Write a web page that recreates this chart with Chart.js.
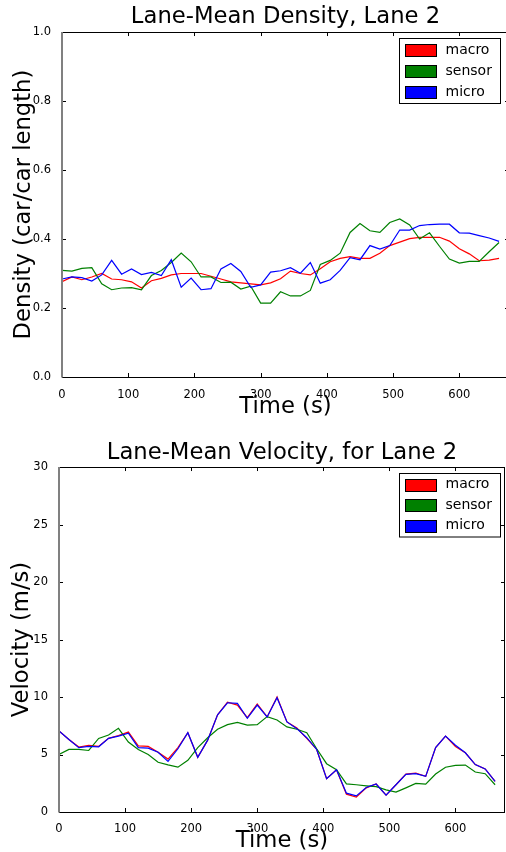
<!DOCTYPE html>
<html>
<head>
<meta charset="utf-8">
<script src="https://cdn.jsdelivr.net/npm/chart.js@4.4.0/dist/chart.umd.min.js"></script>
<style>
body { margin: 0; background: #fff; overflow: hidden; width: 506px; height: 852px; position: relative; }
canvas { position: absolute; left: 0; }
</style>
</head>
<body>
<canvas id="density" width="510" height="426" style="top:0"></canvas>
<canvas id="velocity" width="506" height="426" style="top:426px"></canvas>
<script>
// 시간 (s)
const times = [0, 15, 30, 45, 60, 75, 90, 105, 120, 135, 150, 165, 180, 195, 210, 225, 240, 255, 270, 285, 300, 315, 330,
  345, 360, 375, 390, 405, 420, 435, 450, 465, 480, 495, 510, 525, 540, 555, 570, 585, 600, 615, 630, 645, 660];

// 밀도 (car/car length)
const macroDensity = [0.276, 0.290, 0.282, 0.290, 0.300, 0.284, 0.282, 0.276, 0.258, 0.279, 0.286, 0.296, 0.300, 0.300, 0.300, 0.292, 0.284, 0.276, 0.273, 0.270, 0.267, 0.273, 0.285,
  0.307, 0.300, 0.296, 0.314, 0.334, 0.344, 0.349, 0.344, 0.344, 0.359, 0.381, 0.391, 0.401, 0.405, 0.405, 0.405, 0.394, 0.372, 0.357, 0.337, 0.339, 0.344];
const sensorDensity = [0.309, 0.307, 0.315, 0.317, 0.270, 0.253, 0.258, 0.259, 0.253, 0.294, 0.309, 0.332, 0.359, 0.334, 0.290, 0.290, 0.274, 0.275, 0.255, 0.263, 0.214, 0.214, 0.247,
  0.235, 0.235, 0.251, 0.326, 0.338, 0.359, 0.419, 0.445, 0.424, 0.419, 0.448, 0.458, 0.441, 0.400, 0.418, 0.379, 0.342, 0.330, 0.335, 0.335, 0.363, 0.390];
const microDensity = [0.284, 0.290, 0.288, 0.278, 0.296, 0.338, 0.298, 0.313, 0.297, 0.303, 0.294, 0.340, 0.260, 0.287, 0.253, 0.256, 0.313, 0.329, 0.306, 0.260, 0.267, 0.304, 0.308,
  0.317, 0.301, 0.332, 0.272, 0.282, 0.309, 0.346, 0.340, 0.381, 0.371, 0.381, 0.426, 0.426, 0.439, 0.442, 0.443, 0.443, 0.418, 0.417, 0.410, 0.403, 0.393];

// 속도 (m/s)
const macroVelocity = [7.04, 6.3, 5.65, 5.8, 5.7, 6.4, 6.65, 6.95, 5.75, 5.7, 5.2, 4.6, 5.6, 6.9, 4.76, 6.25, 8.45, 9.55, 9.3, 8.2, 9.4, 8.27, 10.0,
  7.83, 7.3, 6.4, 5.44, 2.9, 3.68, 1.55, 1.3, 2.1, 2.43, 1.46, 2.37, 3.3, 3.38, 3.1, 5.6, 6.6, 5.7, 5.15, 4.12, 3.74, 2.66];
const sensorVelocity = [5.0, 5.44, 5.44, 5.35, 6.4, 6.7, 7.28, 6.08, 5.44, 5.0, 4.33, 4.1, 3.9, 4.5, 5.6, 6.46, 7.2, 7.6, 7.8, 7.55, 7.6, 8.3, 8.0,
  7.4, 7.2, 6.9, 5.5, 4.2, 3.68, 2.45, 2.37, 2.28, 2.2, 1.93, 1.73, 2.1, 2.48, 2.42, 3.3, 3.89, 4.06, 4.08, 3.48, 3.33, 2.37];
const microVelocity = [7.04, 6.3, 5.6, 5.7, 5.67, 6.4, 6.6, 6.85, 5.6, 5.55, 5.2, 4.4, 5.5, 6.9, 4.76, 6.25, 8.45, 9.5, 9.45, 8.15, 9.3, 8.27, 9.94,
  7.83, 7.25, 6.46, 5.44, 2.9, 3.68, 1.64, 1.4, 2.13, 2.43, 1.46, 2.37, 3.27, 3.33, 3.1, 5.6, 6.6, 5.8, 5.15, 4.12, 3.74, 2.66];

const seriesNames = ['macro', 'sensor', 'micro'];
const seriesColors = ['#ff0000', '#008000', '#0000ff'];

const FONT = 'DejaVu Sans';

function points(vals) {
  return times.map((t, i) => ({ x: t, y: vals[i] }));
}

function makeDatasets(lists) {
  return lists.map((vals, i) => ({
    label: seriesNames[i],
    data: points(vals),
    borderColor: seriesColors[i],
    backgroundColor: seriesColors[i],
    borderWidth: 1.2,
    pointRadius: 0,
    tension: 0,
    order: 2 - i // micro 가 맨 위
  }));
}

// 안쪽 눈금, 테두리, 범례
const framePlugin = {
  id: 'frame',
  afterDatasetsDraw(chart, args, opts) {
    const { ctx, chartArea: a, scales: { x, y } } = chart;
    ctx.save();
    ctx.strokeStyle = '#000';
    ctx.lineWidth = 1;
    ctx.beginPath();
    x.ticks.forEach(t => {
      const px = Math.round(x.getPixelForValue(t.value)) + 0.5;
      ctx.moveTo(px, a.bottom); ctx.lineTo(px, a.bottom - 4);
      ctx.moveTo(px, a.top); ctx.lineTo(px, a.top + 4);
    });
    y.ticks.forEach(t => {
      const py = Math.round(y.getPixelForValue(t.value)) + 0.5;
      ctx.moveTo(a.left, py); ctx.lineTo(a.left + 4, py);
      ctx.moveTo(a.right, py); ctx.lineTo(a.right - 4, py);
    });
    ctx.stroke();
    // 테두리
    ctx.beginPath();
    ctx.moveTo(a.left, Math.round(a.top) + 0.5); ctx.lineTo(a.right, Math.round(a.top) + 0.5);
    ctx.moveTo(a.left, Math.round(a.bottom) + 0.5); ctx.lineTo(a.right, Math.round(a.bottom) + 0.5);
    ctx.moveTo(Math.round(a.right) - 0.5, a.top); ctx.lineTo(Math.round(a.right) - 0.5, a.bottom);
    ctx.stroke();
    ctx.strokeStyle = '#808080';
    ctx.lineWidth = 2;
    ctx.beginPath();
    ctx.moveTo(a.left, a.top); ctx.lineTo(a.left, a.bottom + 0.5);
    ctx.stroke();

    // 범례
    const sets = chart.data.datasets;
    const w = 101, rowH = opts.rowH, h = rowH * sets.length + 2;
    const bx = Math.round(a.right - opts.right - w) + 0.5;
    const by = Math.round(a.top + opts.top) + 0.5;
    ctx.fillStyle = '#fff';
    ctx.fillRect(bx, by, w, h);
    ctx.strokeStyle = '#000';
    ctx.lineWidth = 1;
    ctx.strokeRect(bx, by, w, h);
    ctx.font = '14px "' + FONT + '"';
    ctx.textBaseline = 'middle';
    ctx.textAlign = 'left';
    sets.forEach((ds, i) => {
      const cy = by + 1 + rowH * (i + 0.5);
      ctx.fillStyle = ds.borderColor;
      ctx.fillRect(bx + 6, Math.round(cy - 6) + 0.5, 31, 12);
      ctx.strokeRect(bx + 6, Math.round(cy - 6) + 0.5, 31, 12);
      ctx.fillStyle = '#000';
      ctx.fillText(ds.label, bx + 46, cy);
    });
    ctx.restore();
  }
};

function makeChart(id, cfg) {
  return new Chart(document.getElementById(id), {
    type: 'line',
    data: { datasets: makeDatasets(cfg.lists) },
    plugins: [framePlugin],
    options: {
      responsive: false,
      animation: false,
      layout: { padding: { left: 0, right: cfg.padRight, top: 0, bottom: 0 } },
      plugins: {
        legend: { display: false },
        tooltip: { enabled: false },
        title: {
          display: true,
          text: cfg.title,
          fullSize: false,
          color: '#000',
          font: { family: FONT, size: 22.7, weight: 'normal', lineHeight: 1.2 },
          padding: cfg.titlePad
        },
        frame: cfg.legend
      },
      scales: {
        x: {
          type: 'linear',
          min: 0,
          max: 675,
          grid: { display: false },
          border: { display: false },
          ticks: { stepSize: 100, includeBounds: false, padding: cfg.xTickPad, color: '#000',
            font: { family: FONT, size: 11.5 }, maxRotation: 0 },
          title: { display: true, text: 'Time (s)', color: '#000',
            font: { family: FONT, size: 22.7, lineHeight: 1.0 }, padding: { top: 0, bottom: cfg.xTitlePad } },
          afterFit: s => { s.height = cfg.xHeight; }
        },
        y: {
          min: cfg.yMin,
          max: cfg.yMax,
          grid: { display: false },
          border: { display: false },
          ticks: { stepSize: cfg.yStep, includeBounds: false, padding: 3, color: '#000',
            font: { family: FONT, size: 11.5 }, callback: cfg.yFormat },
          title: { display: true, text: cfg.yTitle, color: '#000',
            font: { family: FONT, size: 22.7, lineHeight: 1.0 }, padding: { top: cfg.yTitlePad, bottom: 0 } },
          afterFit: s => { s.width = cfg.yWidth; }
        }
      }
    }
  });
}

const densityChart = makeChart('density', {
  lists: [macroDensity, sensorDensity, microDensity],
  title: 'Lane-Mean Density, Lane 2',
  titlePad: { top: 3.4, bottom: 1.4 },
  padRight: 1,
  xHeight: 49,
  xTickPad: 3,
  xTitlePad: 8,
  yMin: 0, yMax: 1, yStep: 0.2,
  yFormat: v => v.toFixed(1),
  yTitle: 'Density (car/car length)',
  yTitlePad: 12.6,
  yWidth: 62,
  legend: { right: 9, top: 6, rowH: 21 }
});

const velocityChart = makeChart('velocity', {
  lists: [macroVelocity, sensorVelocity, microVelocity],
  title: 'Lane-Mean Velocity, for Lane 2',
  titlePad: { top: 13.4, bottom: 0.4 },
  padRight: 1,
  xHeight: 40,
  xTickPad: 2,
  xTitlePad: 0,
  yMin: 0, yMax: 30, yStep: 5,
  yFormat: v => String(v),
  yTitle: 'Velocity (m/s)',
  yTitlePad: 10.6,
  yWidth: 59,
  legend: { right: 5, top: 6, rowH: 20.5 }
});
</script>
</body>
</html>
